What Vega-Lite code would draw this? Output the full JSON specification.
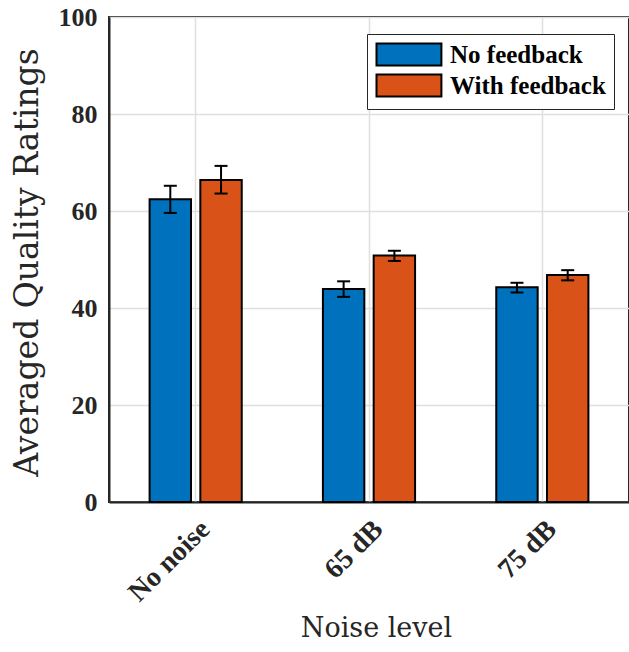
{
  "$schema": "https://vega.github.io/schema/vega-lite/v6.json",
  "width": 520,
  "height": 485,
  "autosize": {"type": "none"},
  "padding": {"left": 109, "top": 17, "right": 0, "bottom": 150},
  "background": "white",
  "config": {
    "view": {"stroke": "#262626", "strokeWidth": 2},
    "axis": {
      "labelFont": "Liberation Serif, Times New Roman, serif",
      "labelFontWeight": "bold",
      "labelFontSize": 26,
      "labelColor": "#262626",
      "titleFont": "DejaVu Serif",
      "titleFontWeight": "normal",
      "titleColor": "#262626",
      "gridColor": "#dfdfdf",
      "gridWidth": 1.5,
      "domainColor": "#262626",
      "domainWidth": 2,
      "tickColor": "#262626"
    }
  },
  "data": {
    "values": [
      {"level": "No noise", "group": "No feedback", "mean": 62.4, "lo": 59.6, "hi": 65.2},
      {"level": "No noise", "group": "With feedback", "mean": 66.4, "lo": 63.6, "hi": 69.3},
      {"level": "65 dB", "group": "No feedback", "mean": 43.9, "lo": 42.3, "hi": 45.5},
      {"level": "65 dB", "group": "With feedback", "mean": 50.8, "lo": 49.7, "hi": 51.8},
      {"level": "75 dB", "group": "No feedback", "mean": 44.3, "lo": 43.2, "hi": 45.2},
      {"level": "75 dB", "group": "With feedback", "mean": 46.8, "lo": 45.7, "hi": 47.8}
    ]
  },
  "encoding": {
    "x": {
      "field": "level",
      "type": "nominal",
      "sort": ["No noise", "65 dB", "75 dB"],
      "scale": {"paddingInner": 0, "paddingOuter": 0},
      "axis": {
        "title": "Noise level",
        "titleFontSize": 27,
        "titleX": 267,
        "titleY": 113,
        "labelAngle": -45,
        "labelFontSize": 28,
        "labelPadding": 13,
        "ticks": false,
        "grid": true
      }
    },
    "xOffset": {
      "field": "group",
      "type": "nominal",
      "scale": {"paddingInner": 0.184, "paddingOuter": 0.8}
    }
  },
  "layer": [
    {
      "mark": {"type": "bar", "stroke": "black", "strokeWidth": 2},
      "encoding": {
        "y": {
          "field": "mean",
          "type": "quantitative",
          "scale": {"domain": [0, 100], "nice": false},
          "axis": {
            "title": "Averaged Quality Ratings",
            "titleFontSize": 33,
            "titleX": -65,
            "titleY": 245,
            "values": [0, 20, 40, 60, 80, 100],
            "labelPadding": 12,
            "ticks": false,
            "grid": true
          }
        },
        "fill": {
          "field": "group",
          "type": "nominal",
          "scale": {"domain": ["No feedback", "With feedback"], "range": ["#0072BD", "#D95319"]},
          "legend": {
            "title": null,
            "orient": "none",
            "legendX": 258,
            "legendY": 17,
            "fillColor": "white",
            "strokeColor": "#262626",
            "padding": 8,
            "symbolType": "M-1,-1L4.9,-1L4.9,1L-1,1Z",
            "symbolSize": 484,
            "symbolStrokeColor": "black",
            "symbolStrokeWidth": 2,
            "symbolOpacity": 1,
            "labelFont": "Liberation Serif, Times New Roman, serif",
            "labelFontWeight": "bold",
            "labelFontSize": 25,
            "labelColor": "black",
            "labelOffset": 50,
            "rowPadding": 0,
            "labelLimit": 300
          }
        }
      }
    },
    {
      "mark": {"type": "rule", "color": "black", "strokeWidth": 2},
      "encoding": {
        "y": {"field": "lo", "type": "quantitative"},
        "y2": {"field": "hi"}
      }
    },
    {
      "mark": {"type": "tick", "color": "black", "thickness": 2, "size": 13, "opacity": 1},
      "encoding": {"y": {"field": "lo", "type": "quantitative"}}
    },
    {
      "mark": {"type": "tick", "color": "black", "thickness": 2, "size": 13, "opacity": 1},
      "encoding": {"y": {"field": "hi", "type": "quantitative"}}
    }
  ]
}
